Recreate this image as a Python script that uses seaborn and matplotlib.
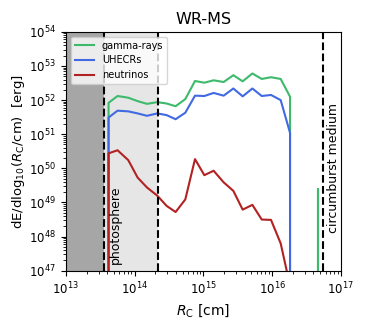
import numpy as np
import pandas as pd
import matplotlib
matplotlib.use('Agg')
import matplotlib.pyplot as plt
import seaborn as sns

# log10(R_C / cm) grid
log_r = [13.621, 13.621, 13.752, 13.908, 14.044, 14.180, 14.330, 14.466, 14.597, 14.738,
         14.879, 15.015, 15.150, 15.296, 15.437, 15.573, 15.714, 15.850, 15.985, 16.126,
         16.262, 16.262]
# log10(dE/dlogR) ; None = off scale (zero)
log_gamma = [None, 51.92, 52.12, 52.07, 51.97, 51.89, 51.94, 51.90, 51.82, 52.03,
             52.56, 52.51, 52.58, 52.53, 52.73, 52.55, 52.78, 52.62, 52.67, 52.62,
             52.10, None]
log_uhecr = [None, 51.49, 51.69, 51.67, 51.61, 51.54, 51.61, 51.56, 51.44, 51.63,
             52.13, 52.12, 52.21, 52.13, 52.34, 52.11, 52.34, 52.12, 52.15, 52.00,
             51.04, None]
log_nu = [None, 50.44, 50.53, 50.24, 49.73, 49.44, 49.20, 48.90, 48.72, 49.09,
          50.27, 49.80, 49.93, 49.59, 49.34, 48.79, 48.93, 48.50, 48.49, 47.80,
          46.56, None]
# lone gamma-ray spike near the circumburst medium
log_r_spike = [16.67, 16.67, 16.67]
log_gamma_spike = [None, 49.39, None]

r_photo = 3.55e13
r_photo2 = 2.2e14
r_cbm = 5.5e16
FLOOR = 1e-30


def to_lin(vals):
    return [FLOOR if v is None else 10 ** v for v in vals]


R = [10 ** v for v in log_r]
df = pd.DataFrame({'R': R, 'gamma': to_lin(log_gamma), 'uhecr': to_lin(log_uhecr),
                   'nu': to_lin(log_nu)})
spike = pd.DataFrame({'R': [10 ** v for v in log_r_spike], 'E': to_lin(log_gamma_spike)})

c_gamma = '#3dba6b'
c_uhecr = '#4169e1'
c_nu = '#b22222'

fig = plt.figure(figsize=(3.66, 3.25), dpi=100)
ax = fig.add_axes([0.180, 0.167, 0.751, 0.735])

ax.axvspan(1e13, r_photo, color='#a6a6a6', lw=0, zorder=0)
ax.axvspan(r_photo, r_photo2, color='#e6e6e6', lw=0, zorder=0)

sns.lineplot(data=df, x='R', y='gamma', color=c_gamma, label='gamma-rays',
             estimator=None, sort=False, lw=1.5, ax=ax)
sns.lineplot(data=spike, x='R', y='E', color=c_gamma, estimator=None, sort=False,
             lw=1.5, ax=ax, legend=False)
sns.lineplot(data=df, x='R', y='uhecr', color=c_uhecr, label='UHECRs',
             estimator=None, sort=False, lw=1.5, ax=ax)
sns.lineplot(data=df, x='R', y='nu', color=c_nu, label='neutrinos',
             estimator=None, sort=False, lw=1.5, ax=ax)

for xv in [r_photo, r_photo2, r_cbm]:
    ax.axvline(xv, color='k', ls='--', lw=1.5)

ax.set_xscale('log')
ax.set_yscale('log')
ax.set_xlim(1e13, 1e17)
ax.set_ylim(1e47, 1e54)

ax.text(5.3e13, 1.6e47, 'photosphere', rotation=90, ha='center', va='bottom', fontsize=9)
ax.text(7.9e16, 1.25e48, 'circumburst medium', rotation=90, ha='center', va='bottom',
        fontsize=9)

ax.set_title('WR-MS', fontsize=11.5)
ax.set_xlabel(r'$R_{\rm C}$ [cm]', fontsize=10)
ax.set_ylabel(r'dE/dlog$_{10}$($R_{\rm C}$/cm)  [erg]', fontsize=9.5, labelpad=1.5)
ax.tick_params(labelsize=8.5)
ax.legend(loc='upper left', fontsize=7)

plt.savefig('out.png', dpi=100)
plt.close()
